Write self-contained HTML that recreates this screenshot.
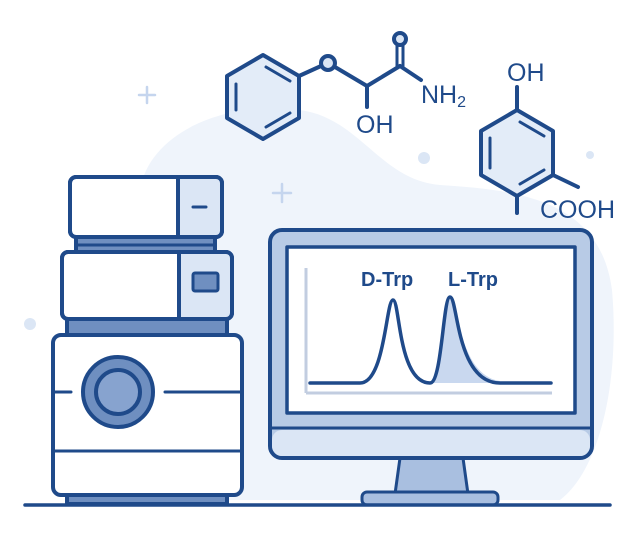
<!DOCTYPE html>
<html><head><meta charset="utf-8"><style>html,body{margin:0;padding:0;background:#fff}svg{display:block}</style></head><body>
<svg width="635" height="547" viewBox="0 0 635 547" xmlns="http://www.w3.org/2000/svg">
<path d="M140 190 C150 130 230 100 300 110 C360 118 380 180 440 185 C520 190 600 200 612 290 C620 380 600 470 560 500 L140 500 C110 440 130 260 140 190 Z" fill="#eff4fb"/>
<g stroke="#c5d5ee" stroke-width="2.5" stroke-linecap="round">
<line x1="147" y1="87" x2="147" y2="103"/><line x1="139" y1="95" x2="155" y2="95"/>
<line x1="282" y1="184" x2="282" y2="202"/><line x1="273" y1="193" x2="291" y2="193"/>
</g>
<circle cx="424" cy="158" r="6" fill="#dbe6f5"/><circle cx="590" cy="155" r="4" fill="#dbe6f5"/><circle cx="30" cy="324" r="6" fill="#dbe6f5"/>
<g stroke="#1f4a8a" stroke-width="4" stroke-linejoin="round" stroke-linecap="round">
<rect x="76" y="237" width="139" height="15" fill="#6f8fc0"/>
<line x1="76" y1="245" x2="215" y2="245" stroke-width="3"/>
<rect x="70" y="177" width="152" height="60" rx="6" fill="#fff"/>
<rect x="178" y="177" width="44" height="60" fill="#dbe6f5" stroke="none"/>
<rect x="70" y="177" width="152" height="60" rx="6" fill="none"/>
<line x1="178" y1="177" x2="178" y2="237"/>
<line x1="193" y1="207" x2="206" y2="207" stroke-width="3"/>
<rect x="67" y="319" width="160" height="16" fill="#6f8fc0"/>
<rect x="62" y="252" width="170" height="67" rx="6" fill="#fff"/>
<rect x="179" y="254" width="51" height="63" fill="#dbe6f5" stroke="none"/>
<rect x="62" y="252" width="170" height="67" rx="6" fill="none"/>
<line x1="179" y1="252" x2="179" y2="319"/>
<rect x="193" y="273" width="25" height="18" rx="2" fill="#6f8fc0" stroke-width="3"/>
<rect x="67" y="495" width="160" height="9" fill="#6f8fc0"/>
<rect x="53" y="335" width="189" height="160" rx="8" fill="#fff"/>
<line x1="55" y1="392" x2="71" y2="392" stroke-width="3"/>
<line x1="165" y1="392" x2="240" y2="392" stroke-width="3"/>
<line x1="55" y1="451" x2="240" y2="451" stroke-width="3"/>
<circle cx="118" cy="392" r="35" fill="#6f8fc0"/>
<circle cx="118" cy="392" r="22" fill="#87a3cf"/>
<path d="M400 458 L463 458 L468 494 L395 494 Z" fill="#a9bfe0" stroke-width="3"/>
<rect x="362" y="492" width="136" height="13" rx="5" fill="#a9bfe0" stroke-width="3"/>
<rect x="270" y="230" width="322" height="228" rx="12" fill="#b8cbe6"/>
<rect x="272" y="430" width="318" height="26" rx="10" fill="#dbe6f5" stroke="none"/>
<line x1="270" y1="428" x2="592" y2="428" stroke-width="3"/>
<rect x="287" y="247" width="288" height="166" fill="#fff" stroke-width="3.5"/>
</g>
<g stroke="#c2cde0" stroke-width="3"><line x1="306" y1="268" x2="306" y2="393"/><line x1="306" y1="393" x2="552" y2="393"/></g>
<path d="M430 383 C440 380 443 297 450 297 C458 297 458 375 500 381 L500 383 Z" fill="#c9d8ef"/>
<path d="M310 383 L360 383 C385 383 386 300 393 300 C400 300 398 383 430 383 C442 383 443 297 450 297 C458 297 456 383 500 383 L551 383" fill="none" stroke="#1f4a8a" stroke-width="3.5" stroke-linecap="round"/>
<g font-family="Liberation Sans, sans-serif" font-weight="bold" font-size="20" fill="#1f4a8a">
<text x="361" y="286">D-Trp</text><text x="448" y="286">L-Trp</text>
</g>
<line x1="25" y1="505" x2="610" y2="505" stroke="#1f4a8a" stroke-width="3.5" stroke-linecap="round"/>
<g stroke="#1f4a8a" stroke-width="4" stroke-linejoin="round" stroke-linecap="round" fill="none">
<polygon points="263,55 299,76 299,118 263,139 227,118 227,76" fill="#e3ecf8"/>
<line x1="236" y1="84" x2="236" y2="110" stroke-width="3"/>
<line x1="266" y1="67" x2="290" y2="81" stroke-width="3"/>
<line x1="266" y1="127" x2="290" y2="113" stroke-width="3"/>
<line x1="299" y1="76" x2="321" y2="66"/>
<line x1="335" y1="67" x2="367" y2="86"/>
<line x1="367" y1="86" x2="400" y2="66"/>
<line x1="367" y1="86" x2="367" y2="107"/>
<line x1="400" y1="66" x2="421" y2="80"/>
<line x1="397" y1="66" x2="397" y2="46" stroke-width="3"/>
<line x1="403" y1="66" x2="403" y2="46" stroke-width="3"/>
<circle cx="328" cy="63" r="7" fill="#dbe6f5"/>
<circle cx="400" cy="39" r="6" fill="#dbe6f5"/>
<polygon points="517,110 553,131 553,175 517,196 481,175 481,131" fill="#e3ecf8"/>
<line x1="490" y1="138" x2="490" y2="168" stroke-width="3"/>
<line x1="520" y1="122" x2="544" y2="136" stroke-width="3"/>
<line x1="520" y1="184" x2="544" y2="170" stroke-width="3"/>
<line x1="517" y1="110" x2="517" y2="87"/>
<line x1="553" y1="175" x2="578" y2="187"/>
<line x1="517" y1="196" x2="517" y2="213"/>
</g>
<g font-family="Liberation Sans, sans-serif" font-size="25" fill="#1f4a8a">
<text x="421" y="103">NH<tspan font-size="16" dy="4">2</tspan></text>
<text x="356" y="133">OH</text>
<text x="507" y="81">OH</text>
<text x="540" y="218">COOH</text>
</g>
</svg>
</body></html>
